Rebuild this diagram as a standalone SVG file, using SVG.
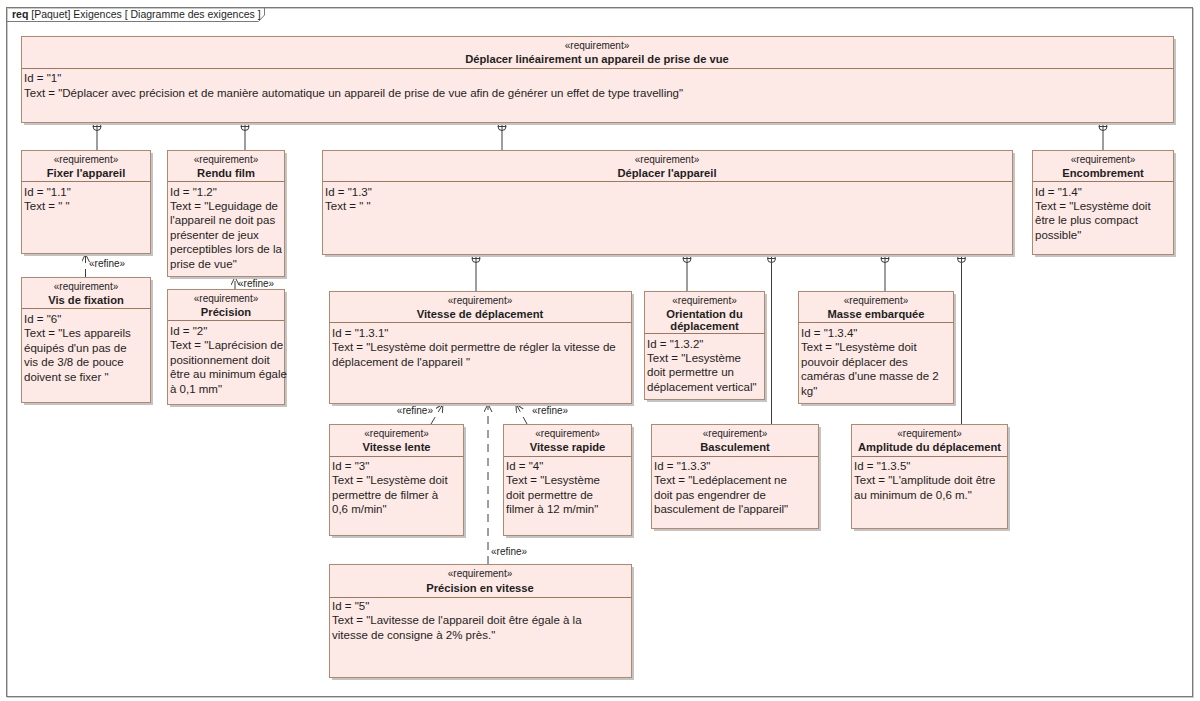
<svg xmlns="http://www.w3.org/2000/svg" width="1200" height="701" viewBox="0 0 1200 701">
<style>
text{font-family:"Liberation Sans",Arial,sans-serif;fill:#1e1e1e}
.sh{fill:#c4c4c4}
.bx{fill:#fde9e5;stroke:#b08a70;stroke-width:1}
.dv{stroke:#9c7a62;stroke-width:1}
.st{font-size:10px;text-anchor:middle}
.ti{font-size:11.2px;font-weight:bold;text-anchor:middle}
.tx{font-size:11.5px}
.ln{stroke:#3c3c3c;stroke-width:1;fill:none}
.dash{stroke-dasharray:8 6}
.lbl{font-size:10px}
</style>
<defs>
<marker id="open" markerWidth="10" markerHeight="10" refX="8" refY="4" orient="auto" markerUnits="userSpaceOnUse">
<path d="M0,0 L8,4 L0,8" fill="none" stroke="#3c3c3c" stroke-width="1"/>
</marker>
<g id="plus">
<circle cx="0" cy="0" r="4" fill="#fff" stroke="#3c3c3c" stroke-width="1"/>
<path d="M-4,0 H4 M0,-4 V4" stroke="#3c3c3c" stroke-width="1"/>
</g>
</defs>
<rect x="0" y="0" width="1200" height="701" fill="#fff"/>
<g id="frame">
<rect x="7.5" y="8.5" width="1186" height="689" fill="none" stroke="#c8c8c8" stroke-width="1"/>
<rect x="6.5" y="7.5" width="1186" height="689" fill="none" stroke="#7a7a7a" stroke-width="1"/>
<path d="M6.5,7.5 H264.5 V15 L258.5,21.5 H6.5" fill="none" stroke="#7a7a7a" stroke-width="1"/>
<text x="12" y="18" style="font-size:10.5px"><tspan font-weight="bold">req</tspan> [Paquet] Exigences [ Diagramme des exigences ]</text>
</g>

<g id="connectors">
<line class="ln" x1="97" y1="130" x2="97" y2="150"/>
<line class="ln" x1="245" y1="130" x2="245" y2="150"/>
<line class="ln" x1="502" y1="130" x2="502" y2="150"/>
<line class="ln" x1="1103" y1="130" x2="1103" y2="150"/>
<line class="ln" x1="476" y1="262" x2="476" y2="291"/>
<line class="ln" x1="687" y1="262" x2="687" y2="291"/>
<line class="ln" x1="771.5" y1="262" x2="771.5" y2="424"/>
<line class="ln" x1="885" y1="262" x2="885" y2="291"/>
<line class="ln" x1="961.5" y1="262" x2="961.5" y2="424"/>
<use href="#plus" x="97" y="126.5"/>
<use href="#plus" x="245" y="126.5"/>
<use href="#plus" x="502" y="126.5"/>
<use href="#plus" x="1103" y="126.5"/>
<use href="#plus" x="476" y="258.5"/>
<use href="#plus" x="687" y="258.5"/>
<use href="#plus" x="771.5" y="258.5"/>
<use href="#plus" x="885" y="258.5"/>
<use href="#plus" x="961.5" y="258.5"/>
<line class="ln dash" x1="85.5" y1="277" x2="85.5" y2="254" marker-end="url(#open)"/>
<text class="lbl" x="89" y="267">«refine»</text>
<line class="ln dash" x1="235" y1="289" x2="235" y2="277" marker-end="url(#open)"/>
<text class="lbl" x="238" y="287">«refine»</text>
<line class="ln dash" x1="431" y1="424" x2="443" y2="404" marker-end="url(#open)"/>
<text class="lbl" x="433" y="414" text-anchor="end">«refine»</text>
<line class="ln dash" x1="527" y1="424" x2="516" y2="404" marker-end="url(#open)"/>
<text class="lbl" x="532" y="414">«refine»</text>
<line class="ln dash" x1="488" y1="564" x2="488" y2="404" marker-end="url(#open)"/>
<text class="lbl" x="491" y="555">«refine»</text>
</g>

<g id="req1">
<rect class="sh" x="24" y="39" width="1152" height="86"/>
<rect class="bx" x="21.5" y="36.5" width="1152" height="86"/>
<line class="dv" x1="21.5" y1="68.5" x2="1173.5" y2="68.5"/>
<text class="st" x="597" y="48.5">«requirement»</text>
<text class="ti" x="597" y="63">Déplacer linéairement un appareil de prise de vue</text>
<text class="tx" x="24" y="81.5">Id = "1"</text>
<text class="tx" x="24" y="96.5">Text = "Déplacer avec précision et de manière automatique un appareil de prise de vue afin de générer un effet de type travelling"</text>
</g>

<g id="req1_1">
<rect class="sh" x="24" y="153" width="129" height="103"/>
<rect class="bx" x="21.5" y="150.5" width="129" height="103"/>
<line class="dv" x1="21.5" y1="181.5" x2="150.5" y2="181.5"/>
<text class="st" x="86" y="162.5">«requirement»</text>
<text class="ti" x="86" y="176.5">Fixer l'appareil</text>
<text class="tx" x="24" y="195.5">Id = "1.1"</text>
<text class="tx" x="24" y="209.9">Text = " "</text>
</g>

<g id="req1_2">
<rect class="sh" x="170" y="153" width="117" height="126"/>
<rect class="bx" x="167.5" y="150.5" width="117" height="126"/>
<line class="dv" x1="167.5" y1="181.5" x2="284.5" y2="181.5"/>
<text class="st" x="226" y="162.5">«requirement»</text>
<text class="ti" x="226" y="176.5">Rendu film</text>
<text class="tx" x="170" y="195.5">Id = "1.2"</text>
<text class="tx" x="170" y="209.9">Text = "Leguidage de</text>
<text class="tx" x="170" y="224.3">l'appareil ne doit pas</text>
<text class="tx" x="170" y="238.7">présenter de jeux</text>
<text class="tx" x="170" y="253.1">perceptibles lors de la</text>
<text class="tx" x="170" y="267.5">prise de vue"</text>
</g>

<g id="req1_3">
<rect class="sh" x="325" y="153" width="690" height="104"/>
<rect class="bx" x="322.5" y="150.5" width="690" height="104"/>
<line class="dv" x1="322.5" y1="181.5" x2="1012.5" y2="181.5"/>
<text class="st" x="667" y="162.5">«requirement»</text>
<text class="ti" x="667" y="176.5">Déplacer l'appareil</text>
<text class="tx" x="325" y="195.5">Id = "1.3"</text>
<text class="tx" x="325" y="209.9">Text = " "</text>
</g>

<g id="req1_4">
<rect class="sh" x="1035" y="153" width="141" height="104"/>
<rect class="bx" x="1032.5" y="150.5" width="141" height="104"/>
<line class="dv" x1="1032.5" y1="181.5" x2="1173.5" y2="181.5"/>
<text class="st" x="1103" y="162.5">«requirement»</text>
<text class="ti" x="1103" y="176.5">Encombrement</text>
<text class="tx" x="1035" y="195.5">Id = "1.4"</text>
<text class="tx" x="1035" y="209.9">Text = "Lesystème doit</text>
<text class="tx" x="1035" y="224.3">être le plus compact</text>
<text class="tx" x="1035" y="238.7">possible"</text>
</g>

<g id="req6">
<rect class="sh" x="24" y="280" width="129" height="125"/>
<rect class="bx" x="21.5" y="277.5" width="129" height="125"/>
<line class="dv" x1="21.5" y1="308.5" x2="150.5" y2="308.5"/>
<text class="st" x="86" y="290">«requirement»</text>
<text class="ti" x="86" y="304">Vis de fixation</text>
<text class="tx" x="24" y="323">Id = "6"</text>
<text class="tx" x="24" y="337.4">Text = "Les appareils</text>
<text class="tx" x="24" y="351.8">équipés d'un pas de</text>
<text class="tx" x="24" y="366.2">vis de 3/8 de pouce</text>
<text class="tx" x="24" y="380.6">doivent se fixer "</text>
</g>

<g id="req2">
<rect class="sh" x="170" y="292" width="117" height="115"/>
<rect class="bx" x="167.5" y="289.5" width="117" height="115"/>
<line class="dv" x1="167.5" y1="320.5" x2="284.5" y2="320.5"/>
<text class="st" x="226" y="302">«requirement»</text>
<text class="ti" x="226" y="316">Précision</text>
<text class="tx" x="170" y="335">Id = "2"</text>
<text class="tx" x="170" y="349.4">Text = "Laprécision de</text>
<text class="tx" x="170" y="363.8">positionnement doit</text>
<text class="tx" x="170" y="378.2">être au minimum égale</text>
<text class="tx" x="170" y="392.6">à 0,1 mm"</text>
</g>

<g id="req1_3_1">
<rect class="sh" x="332" y="294" width="302" height="112"/>
<rect class="bx" x="329.5" y="291.5" width="302" height="112"/>
<line class="dv" x1="329.5" y1="322.5" x2="631.5" y2="322.5"/>
<text class="st" x="480" y="304">«requirement»</text>
<text class="ti" x="480" y="318">Vitesse de déplacement</text>
<text class="tx" x="332" y="337">Id = "1.3.1"</text>
<text class="tx" x="332" y="351.4">Text = "Lesystème doit permettre de régler la vitesse de</text>
<text class="tx" x="332" y="365.8">déplacement de l'appareil "</text>
</g>

<g id="req1_3_2">
<rect class="sh" x="647" y="294" width="120" height="108"/>
<rect class="bx" x="644.5" y="291.5" width="120" height="108"/>
<line class="dv" x1="644.5" y1="333.5" x2="764.5" y2="333.5"/>
<text class="st" x="704.5" y="304">«requirement»</text>
<text class="ti" x="704.5" y="318">Orientation du</text>
<text class="ti" x="704.5" y="330">déplacement</text>
<text class="tx" x="647" y="347.5">Id = "1.3.2"</text>
<text class="tx" x="647" y="361.9">Text = "Lesystème</text>
<text class="tx" x="647" y="376.3">doit permettre un</text>
<text class="tx" x="647" y="390.7">déplacement vertical"</text>
</g>

<g id="req1_3_4">
<rect class="sh" x="801" y="294" width="155" height="112"/>
<rect class="bx" x="798.5" y="291.5" width="155" height="112"/>
<line class="dv" x1="798.5" y1="322.5" x2="953.5" y2="322.5"/>
<text class="st" x="876" y="304">«requirement»</text>
<text class="ti" x="876" y="318">Masse embarquée</text>
<text class="tx" x="801" y="337">Id = "1.3.4"</text>
<text class="tx" x="801" y="351.4">Text = "Lesystème doit</text>
<text class="tx" x="801" y="365.8">pouvoir déplacer des</text>
<text class="tx" x="801" y="380.2">caméras d'une masse de 2</text>
<text class="tx" x="801" y="394.6">kg"</text>
</g>

<g id="req3">
<rect class="sh" x="332" y="427" width="134" height="111"/>
<rect class="bx" x="329.5" y="424.5" width="134" height="111"/>
<line class="dv" x1="329.5" y1="456.5" x2="463.5" y2="456.5"/>
<text class="st" x="396.5" y="437">«requirement»</text>
<text class="ti" x="396.5" y="451">Vitesse lente</text>
<text class="tx" x="332" y="470">Id = "3"</text>
<text class="tx" x="332" y="484.4">Text = "Lesystème doit</text>
<text class="tx" x="332" y="498.8">permettre de filmer à</text>
<text class="tx" x="332" y="513.2">0,6 m/min"</text>
</g>

<g id="req4">
<rect class="sh" x="506" y="427" width="128" height="111"/>
<rect class="bx" x="503.5" y="424.5" width="128" height="111"/>
<line class="dv" x1="503.5" y1="456.5" x2="631.5" y2="456.5"/>
<text class="st" x="567.5" y="437">«requirement»</text>
<text class="ti" x="567.5" y="451">Vitesse rapide</text>
<text class="tx" x="506" y="470">Id = "4"</text>
<text class="tx" x="506" y="484.4">Text = "Lesystème</text>
<text class="tx" x="506" y="498.8">doit permettre de</text>
<text class="tx" x="506" y="513.2">filmer à 12 m/min"</text>
</g>

<g id="req1_3_3">
<rect class="sh" x="654" y="427" width="167" height="104"/>
<rect class="bx" x="651.5" y="424.5" width="167" height="104"/>
<line class="dv" x1="651.5" y1="456.5" x2="818.5" y2="456.5"/>
<text class="st" x="735" y="437">«requirement»</text>
<text class="ti" x="735" y="451">Basculement</text>
<text class="tx" x="654" y="470">Id = "1.3.3"</text>
<text class="tx" x="654" y="484.4">Text = "Ledéplacement ne</text>
<text class="tx" x="654" y="498.8">doit pas engendrer de</text>
<text class="tx" x="654" y="513.2">basculement de l'appareil"</text>
</g>

<g id="req1_3_5">
<rect class="sh" x="854" y="427" width="156" height="104"/>
<rect class="bx" x="851.5" y="424.5" width="156" height="104"/>
<line class="dv" x1="851.5" y1="456.5" x2="1007.5" y2="456.5"/>
<text class="st" x="929.5" y="437">«requirement»</text>
<text class="ti" x="929.5" y="451">Amplitude du déplacement</text>
<text class="tx" x="854" y="470">Id = "1.3.5"</text>
<text class="tx" x="854" y="484.4">Text = "L'amplitude doit être</text>
<text class="tx" x="854" y="498.8">au minimum de 0,6 m."</text>
</g>

<g id="req5">
<rect class="sh" x="332" y="567" width="302" height="113"/>
<rect class="bx" x="329.5" y="564.5" width="302" height="113"/>
<line class="dv" x1="329.5" y1="597.5" x2="631.5" y2="597.5"/>
<text class="st" x="480" y="577">«requirement»</text>
<text class="ti" x="480" y="592">Précision en vitesse</text>
<text class="tx" x="332" y="610">Id = "5"</text>
<text class="tx" x="332" y="624.4">Text = "Lavitesse de l'appareil doit être égale à la</text>
<text class="tx" x="332" y="638.8">vitesse de consigne à 2% près."</text>
</g>
</svg>
